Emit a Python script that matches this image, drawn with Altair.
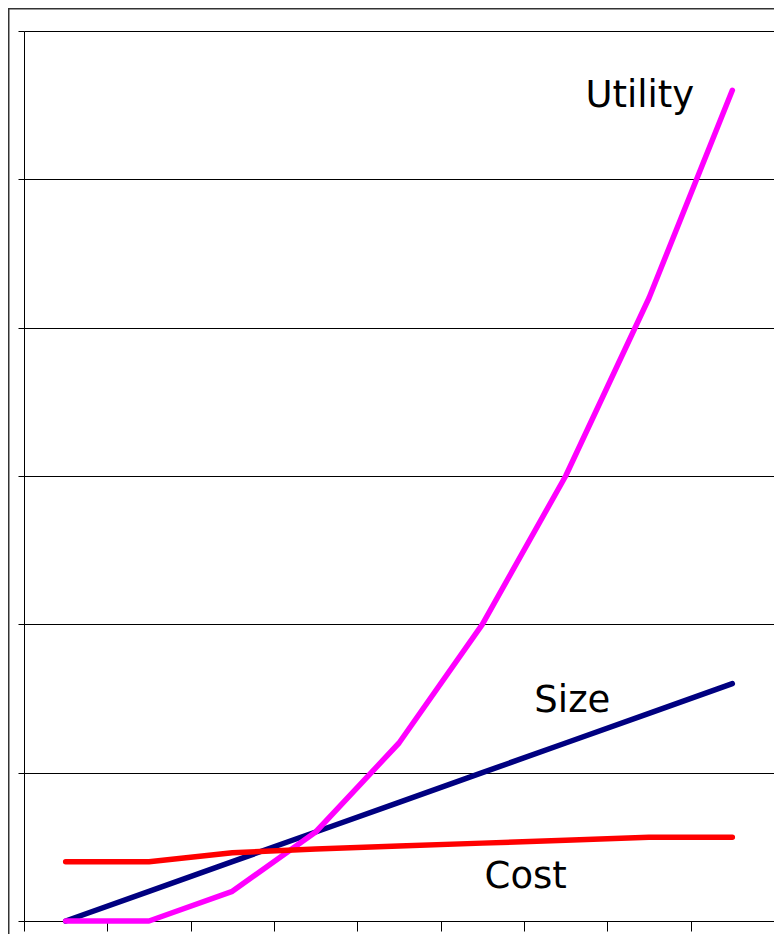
import altair as alt
import pandas as pd

# ---- data ----
steps = [1, 2, 3, 4, 5, 6, 7, 8, 9]
utility = [0, 0, 2, 6, 12, 20, 30, 42, 56]
size = [0, 2, 4, 6, 8, 10, 12, 14, 16]
cost = [4.0, 4.0, 4.6, 4.85, 5.05, 5.25, 5.45, 5.65, 5.65]

x_ticks = [0.5, 1.5, 2.5, 3.5, 4.5, 5.5, 6.5, 7.5, 8.5, 9.5]
y_ticks = [0, 10, 20, 30, 40, 50, 60]

label_text = ["Utility", "Size", "Cost"]
label_x = [7.89, 7.08, 6.52]
label_y = [54.9, 14.1, 2.22]

W, H = 750, 890

df = pd.DataFrame({"step": steps, "Utility": utility, "Size": size, "Cost": cost})
labels = pd.DataFrame({"text": label_text, "x": label_x, "y": label_y})

xscale = alt.Scale(domain=[0.5, 9.5], nice=False, zero=False)
yscale = alt.Scale(domain=[0, 60], nice=False)

xaxis = alt.Axis(values=x_ticks, labels=False, grid=False, ticks=True, tickSize=10,
                 domain=True, domainColor="#000000", tickColor="#000000",
                 domainWidth=1, tickWidth=1, title=None)
yaxis = alt.Axis(values=y_ticks, labels=False, grid=True, gridColor="#000000",
                 gridWidth=1, gridOpacity=1, ticks=True, tickSize=6,
                 domain=True, domainColor="#000000", tickColor="#000000",
                 domainWidth=1, tickWidth=1, title=None)

base = alt.Chart(df)

axes = base.mark_point(opacity=0).encode(
    x=alt.X("step:Q", scale=xscale, axis=xaxis),
    y=alt.Y("Utility:Q", scale=yscale, axis=yaxis),
)

def series(col, color):
    return base.mark_line(color=color, strokeWidth=5.5, strokeCap="round",
                          strokeJoin="round").encode(
        x=alt.X("step:Q", scale=xscale),
        y=alt.Y(f"{col}:Q", scale=yscale),
    )

size_line = series("Size", "#000080")
util_line = series("Utility", "#FF00FF")
cost_line = series("Cost", "#FF0000")

text = alt.Chart(labels).mark_text(
    font="DejaVu Sans", fontSize=37, color="#000000", align="center",
    baseline="alphabetic"
).encode(
    x=alt.X("x:Q", scale=xscale),
    y=alt.Y("y:Q", scale=yscale),
    text="text:N",
)

frame = alt.Chart(pd.DataFrame({"a": [0]})).mark_rect(
    filled=False, stroke="#333333", strokeWidth=1.5
).encode(
    x=alt.value(-15.25), y=alt.value(-22.25),
    x2=alt.value(W + 60), y2=alt.value(H + 80),
)

chart = alt.layer(frame, axes, size_line, util_line, cost_line, text).properties(
    width=W, height=H,
    autosize=alt.AutoSizeParams(type="none"),
    padding={"left": 16, "top": 23, "right": 0, "bottom": 13},
).configure_view(strokeWidth=0).configure(background="#FFFFFF")

chart.save("out.html", embed_options={"renderer": "svg", "actions": False})
